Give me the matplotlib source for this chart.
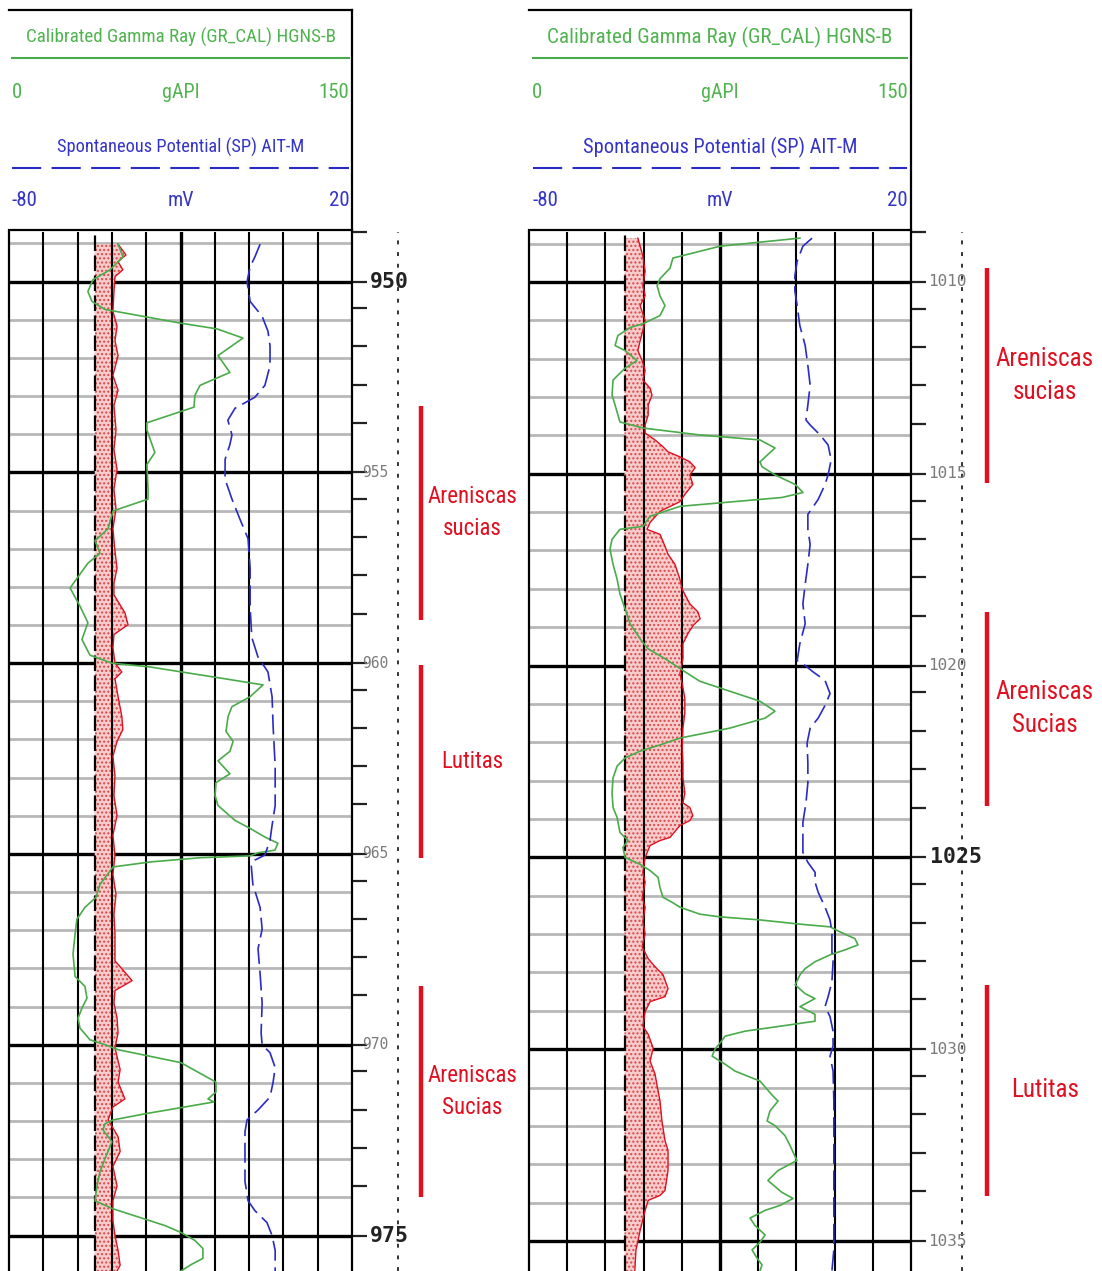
import matplotlib
matplotlib.use('Agg')
import matplotlib.pyplot as plt
import matplotlib.transforms as mtransforms
import numpy as np

# escalas de las curvas
gr_min, gr_max = 0, 150
sp_min, sp_max = -80, 20
cal_min, cal_max = 6, 16
bit_size = 8.5

# ---------------- tramo izquierdo (949 - 976 m) ----------------
top_a, base_a = 949.0, 975.93

gr_depth_a = [949.02, 949.35, 949.69, 949.95, 950.26, 950.52, 950.73, 951.09, 951.24, 951.48,
              951.94, 952.38, 952.72, 952.98, 953.29, 953.70, 953.89, 954.48, 954.79, 955.44,
              955.70, 956.01, 956.48, 956.79, 957.12, 957.38, 958.03, 958.50, 958.94, 959.38,
              959.79, 960.00, 960.10, 960.41, 960.57, 960.88, 961.14, 961.40, 961.79, 962.05,
              962.31, 962.56, 962.90, 963.13, 963.47, 963.73, 964.12, 964.33, 964.56, 964.72,
              964.90, 964.97, 965.05, 965.10, 965.21, 965.34, 965.80, 966.14, 966.40, 966.71,
              967.10, 967.62, 968.21, 968.47, 968.78, 969.04, 969.30, 969.56, 969.87, 970.00,
              970.13, 970.47, 970.98, 971.24, 971.42, 971.50, 971.81, 971.97, 972.07, 972.23,
              972.54, 972.93, 973.32, 973.70, 974.09, 974.30, 974.74, 974.92, 975.13, 975.34,
              975.60, 975.75, 975.93]
gr_a = [47.7, 49.9, 44.2, 36.7, 34.5, 36.3, 42.0, 75.2, 91.0, 102.3,
        91.4, 96.6, 83.5, 81.3, 80.9, 60.3, 60.3, 63.8, 60.3, 60.8,
        60.8, 45.5, 43.3, 37.6, 39.8, 34.5, 26.7, 31.0, 34.5, 31.9,
        35.4, 45.0, 61.7, 94.5, 111.1, 105.4, 97.5, 95.8, 94.9, 98.0,
        96.6, 91.4, 96.6, 90.5, 90.1, 91.4, 98.8, 105.4, 112.0, 117.6,
        116.3, 108.9, 105.4, 83.5, 61.7, 45.5, 39.8, 38.0, 33.2, 29.7,
        28.9, 28.0, 28.9, 33.2, 34.1, 31.9, 30.2, 31.0, 35.4, 42.0,
        47.7, 75.2, 90.5, 90.5, 87.0, 89.6, 59.5, 45.5, 42.0, 41.1,
        45.0, 42.4, 39.8, 38.5, 37.6, 45.5, 68.2, 75.2, 81.3, 84.8,
        84.8, 80.0, 75.2]

sp_depth_a = [949.02, 949.35, 949.61, 950.00, 950.52, 950.91, 951.30, 951.68, 952.20, 952.72,
              953.03, 953.32, 953.63, 954.02, 954.27, 954.66, 955.18, 955.70, 956.22, 956.74,
              957.51, 958.55, 959.33, 959.84, 960.23, 960.88, 961.66, 962.69, 963.73, 964.25,
              964.64, 965.03, 965.16, 965.28, 965.80, 966.40, 966.97, 967.49, 968.13, 968.91,
              969.69, 970.00, 970.21, 970.60, 970.98, 971.37, 971.71, 971.97, 972.28, 973.06,
              973.58, 974.09, 974.35, 974.66, 975.00, 975.39, 975.93]
sp_a = [-6.8, -8.3, -9.7, -10.6, -9.7, -6.2, -4.5, -3.9, -3.9, -5.4,
        -8.3, -14.1, -16.2, -15.0, -15.6, -17.0, -17.0, -15.0, -12.7, -10.3,
        -9.7, -9.7, -9.2, -7.4, -4.5, -3.3, -3.0, -2.4, -2.4, -3.3,
        -3.9, -5.4, -8.3, -9.4, -8.9, -6.8, -6.2, -7.4, -6.8, -6.2,
        -6.5, -6.2, -3.9, -2.4, -3.0, -3.9, -7.4, -10.6, -11.2, -11.2,
        -11.2, -10.3, -8.3, -4.8, -3.3, -2.4, -2.4]

cal_depth_a = [949.02, 949.30, 949.48, 949.69, 949.87, 950.26, 950.78, 951.17, 951.55, 951.94,
               952.46, 952.85, 953.24, 953.89, 954.40, 954.92, 955.44, 955.96, 956.48, 957.07,
               957.51, 957.90, 958.21, 958.68, 958.99, 959.25, 959.59, 960.00, 960.23, 960.41,
               960.88, 961.40, 961.74, 962.05, 962.44, 962.95, 963.47, 963.99, 964.51, 965.03,
               965.54, 966.06, 966.58, 967.10, 967.80, 968.32, 968.58, 968.91, 969.30, 969.69,
               970.08, 970.65, 970.98, 971.42, 971.63, 971.97, 972.41, 972.80, 973.19, 973.70,
               974.09, 974.61, 975.00, 975.39, 975.78, 975.93]
cal_a = [9.18, 9.41, 9.18, 9.32, 9.09, 9.06, 9.03, 9.15, 9.09, 9.18,
         9.03, 9.18, 9.06, 9.12, 9.06, 9.15, 9.06, 9.12, 9.03, 9.09,
         9.15, 9.06, 9.06, 9.38, 9.47, 9.06, 9.03, 9.09, 9.29, 9.09,
         9.18, 9.29, 9.32, 9.15, 9.03, 9.09, 9.06, 9.15, 9.03, 9.09,
         9.03, 9.12, 9.06, 9.09, 9.09, 9.59, 9.09, 9.06, 9.15, 9.18,
         9.09, 9.24, 9.18, 9.38, 9.03, 8.89, 9.18, 9.24, 9.03, 9.15,
         9.03, 9.03, 9.09, 9.18, 9.24, 9.15]

zone_top_a = [953.26, 960.05, 968.47]
zone_base_a = [958.86, 965.10, 973.99]
zone_name_a = ['Areniscas\nsucias', 'Lutitas', 'Areniscas\nSucias']
big_labels_a = [950, 975]

# ---------------- tramo derecho (1009 - 1036 m) ----------------
top_b, base_b = 1008.86, 1035.78

gr_depth_b = [1008.86, 1009.07, 1009.38, 1009.64, 1009.92, 1010.10, 1010.36, 1010.62, 1010.88, 1011.09,
              1011.19, 1011.40, 1011.66, 1011.79, 1012.05, 1012.25, 1012.56, 1012.95, 1013.21, 1013.65,
              1013.81, 1013.99, 1014.12, 1014.33, 1014.69, 1014.82, 1015.03, 1015.28, 1015.49, 1015.62,
              1015.85, 1016.11, 1016.37, 1016.45, 1016.71, 1016.97, 1017.36, 1017.75, 1018.13, 1018.52,
              1018.91, 1019.30, 1019.56, 1019.82, 1020.13, 1020.41, 1020.67, 1020.93, 1021.19, 1021.37,
              1021.63, 1021.89, 1022.07, 1022.23, 1022.41, 1022.62, 1022.93, 1023.32, 1023.70, 1023.96,
              1024.35, 1024.56, 1024.74, 1025.00, 1025.18, 1025.34, 1025.52, 1025.78, 1026.04, 1026.17,
              1026.30, 1026.48, 1026.55, 1026.63, 1026.74, 1026.81, 1026.94, 1027.12, 1027.28, 1027.41,
              1027.54, 1027.72, 1027.90, 1028.06, 1028.32, 1028.55, 1028.68, 1028.89, 1029.09, 1029.27,
              1029.40, 1029.53, 1029.66, 1029.84, 1030.00, 1030.18, 1030.39, 1030.57, 1030.83, 1031.22,
              1031.35, 1031.61, 1031.87, 1031.99, 1032.25, 1032.51, 1032.90, 1033.16, 1033.42, 1033.73,
              1033.89, 1034.07, 1034.20, 1034.40, 1034.59, 1034.84, 1035.03, 1035.23, 1035.44, 1035.62,
              1035.78]
gr_b = [106.4, 75.0, 56.5, 55.4, 51.4, 50.3, 51.4, 53.4, 51.4, 44.8,
        39.7, 34.9, 33.8, 37.7, 42.4, 37.7, 33.0, 32.6, 33.8, 35.7,
        44.8, 67.1, 90.7, 96.6, 90.7, 91.5, 96.6, 104.5, 107.6, 99.3,
        59.3, 47.5, 44.8, 35.7, 32.6, 31.8, 33.0, 34.6, 35.7, 37.7,
        39.7, 43.6, 46.7, 53.4, 60.5, 67.1, 78.9, 90.7, 96.6, 92.7,
        78.9, 59.3, 51.4, 43.6, 37.7, 34.6, 33.0, 32.6, 33.0, 34.6,
        35.7, 38.9, 36.9, 37.7, 43.6, 47.5, 50.7, 51.4, 52.6, 56.2,
        59.3, 67.1, 75.0, 90.7, 106.4, 118.2, 122.1, 128.0, 129.2, 124.1,
        118.2, 112.3, 108.4, 106.4, 104.5, 108.4, 112.3, 106.4, 112.3, 112.3,
        98.6, 84.8, 77.0, 75.0, 73.0, 71.9, 77.0, 80.9, 90.7, 95.8,
        97.8, 94.6, 93.5, 96.6, 100.5, 102.5, 105.2, 97.8, 93.8, 99.3,
        103.7, 98.6, 92.7, 86.8, 88.7, 92.7, 90.7, 87.6, 89.5, 91.5,
        90.7]

sp_depth_b = [1008.86, 1009.07, 1009.46, 1009.84, 1010.23, 1010.62, 1011.14, 1011.66, 1012.18, 1012.69,
              1013.21, 1013.60, 1013.73, 1013.99, 1014.25, 1014.64, 1015.03, 1015.28, 1015.67, 1016.06,
              1016.45, 1016.84, 1017.36, 1017.88, 1018.39, 1018.91, 1019.43, 1019.87, 1020.00, 1020.16,
              1020.39, 1020.73, 1021.04, 1021.37, 1021.63, 1022.02, 1022.54, 1023.06, 1023.58, 1024.09,
              1024.87, 1025.13, 1025.39, 1025.65, 1025.91, 1026.30, 1026.63, 1026.94, 1027.46, 1027.72,
              1028.24, 1028.63, 1028.89, 1029.15, 1029.53, 1029.92, 1030.18, 1030.57, 1031.35, 1032.64,
              1033.94, 1035.23, 1035.78]
sp_b = [-5.9, -8.3, -9.8, -10.4, -10.4, -9.8, -9.1, -7.7, -7.0, -6.4,
        -7.0, -7.5, -6.4, -3.8, -1.7, -0.9, -1.7, -2.5, -4.3, -7.0,
        -7.0, -6.4, -7.0, -7.7, -8.3, -7.7, -9.1, -9.8, -7.7, -5.7,
        -2.5, -1.2, -2.5, -4.3, -6.4, -7.2, -7.0, -7.0, -7.5, -8.3,
        -8.3, -7.0, -5.1, -5.1, -4.3, -2.5, -1.2, -0.7, -0.7, -0.4,
        -0.7, -1.7, -2.5, -1.2, -0.4, -0.4, -1.2, -0.4, -0.2, -0.2,
        -0.2, -0.2, -0.7]

cal_depth_b = [1008.86, 1009.07, 1009.33, 1009.72, 1010.10, 1010.36, 1010.62, 1011.01, 1011.27, 1011.53,
               1011.79, 1012.05, 1012.31, 1012.56, 1012.77, 1012.95, 1013.21, 1013.47, 1013.73, 1013.94,
               1014.12, 1014.30, 1014.43, 1014.56, 1014.69, 1014.84, 1015.03, 1015.28, 1015.54, 1015.73,
               1015.98, 1016.27, 1016.45, 1016.58, 1016.89, 1017.10, 1017.36, 1017.75, 1018.01, 1018.26,
               1018.39, 1018.60, 1018.78, 1018.96, 1019.17, 1019.43, 1019.82, 1020.21, 1020.47, 1020.85,
               1021.24, 1021.63, 1022.15, 1022.54, 1022.93, 1023.32, 1023.58, 1023.70, 1023.91, 1024.04,
               1024.17, 1024.48, 1024.56, 1024.69, 1025.00, 1025.39, 1025.65, 1026.04, 1026.30, 1026.68,
               1026.99, 1027.33, 1027.64, 1027.85, 1028.06, 1028.42, 1028.63, 1028.76, 1029.02, 1029.40,
               1029.61, 1029.97, 1030.31, 1030.65, 1031.09, 1031.35, 1031.87, 1032.38, 1032.64, 1033.16,
               1033.68, 1033.81, 1033.94, 1034.20, 1034.72, 1035.23, 1035.78]
cal_b = [8.85, 8.91, 8.98, 9.04, 8.98, 9.04, 8.91, 9.04, 8.98, 8.91,
         8.85, 8.96, 9.04, 8.98, 9.17, 9.22, 9.12, 9.12, 9.04, 9.04,
         9.30, 9.51, 9.64, 9.95, 10.21, 10.35, 10.21, 10.29, 10.08, 9.95,
         9.43, 9.17, 9.09, 9.43, 9.56, 9.64, 9.82, 9.95, 10.01, 10.14,
         10.21, 10.42, 10.48, 10.29, 10.16, 10.03, 10.03, 9.95, 10.01, 10.08,
         10.08, 10.03, 10.01, 10.03, 10.03, 10.08, 10.03, 10.21, 10.29, 10.21,
         9.95, 9.69, 9.43, 9.17, 9.04, 8.98, 9.04, 8.96, 9.04, 8.98,
         9.04, 8.96, 9.12, 9.30, 9.51, 9.64, 9.56, 9.17, 9.04, 8.98,
         9.12, 9.25, 9.17, 9.30, 9.38, 9.43, 9.48, 9.56, 9.64, 9.64,
         9.56, 9.43, 9.12, 9.04, 8.91, 8.80, 8.77]

zone_top_b = [1009.64, 1018.60, 1028.32]
zone_base_b = [1015.23, 1023.65, 1033.83]
zone_name_b = ['Areniscas\nsucias', 'Areniscas\nSucias', 'Lutitas']
big_labels_b = [1025]

# colores
GREEN = '#4aab4a'
GREEN_TXT = '#4fb44f'
BLUE = '#2a2ac4'
BLUE_TXT = '#3434c8'
RED = '#e01020'
NARROW = ['Roboto Condensed', 'Liberation Sans']

W, H = 1102, 1271
fig = plt.figure(figsize=(W / 100, H / 100), dpi=100)


def px_axes(x0, y0, x1, y1):
    return fig.add_axes([x0 / W, 1 - y1 / H, (x1 - x0) / W, (y1 - y0) / H])


def draw_header(x0, x1):
    hd = px_axes(x0, 10, x1, 230)
    hd.set_xlim(0, 1)
    hd.set_ylim(0, 1)
    hd.set_xticks([])
    hd.set_yticks([])
    hd.spines['left'].set_visible(False)
    for s in ['top', 'right', 'bottom']:
        hd.spines[s].set_linewidth(1.6)
    k = (x1 - x0) / 343  # la cabecera derecha es mas ancha
    kw = dict(va='center', family=NARROW)
    hd.text(0.5, 0.877, 'Calibrated Gamma Ray (GR_CAL) HGNS-B', color=GREEN_TXT, ha='center',
            fontsize=13.7 * k, **kw)
    hd.axhline(0.782, 0.01, 0.99, color=GREEN, lw=1.5)
    hd.text(0.008, 0.627, f'{gr_min}', color=GREEN_TXT, ha='left', fontsize=15, **kw)
    hd.text(0.5, 0.627, 'gAPI', color=GREEN_TXT, ha='center', fontsize=14.5, **kw)
    hd.text(0.992, 0.627, f'{gr_max}', color=GREEN_TXT, ha='right', fontsize=15, **kw)
    hd.text(0.5, 0.377, 'Spontaneous Potential (SP) AIT-M', color=BLUE_TXT, ha='center',
            fontsize=13.2 * k, **kw)
    hd.axhline(0.282, 0.01, 0.99, color=BLUE, lw=1.5, ls=(0, (14, 5)))
    hd.text(0.008, 0.136, f'{sp_min}', color=BLUE_TXT, ha='left', fontsize=15, **kw)
    hd.text(0.5, 0.136, 'mV', color=BLUE_TXT, ha='center', fontsize=14.5, **kw)
    hd.text(0.992, 0.136, f'{sp_max}', color=BLUE_TXT, ha='right', fontsize=15, **kw)


def draw_track(x0, x1, top, base, gr_d, gr, sp_d, sp, cal_d, cal,
               z_top, z_base, z_name, big_labels, small_x, big_x, small_fs, zone_fs):
    ax = px_axes(x0, 232, x1, H)
    ax.set_xlim(cal_min, cal_max)
    ax.set_ylim(base, top)
    ax.set_xticks([])
    for s in ['top', 'bottom']:
        ax.spines[s].set_visible(False)
    for s in ['left', 'right']:
        ax.spines[s].set_linewidth(1.6)

    # rejilla de profundidad
    depths = np.arange(int(np.ceil(top)), int(np.floor(base)) + 1)
    for d in depths:
        major = d % 5 == 0
        ax.axhline(d, color='black' if major else '#b8b8b8',
                   lw=2.4 if major else 2.0, zorder=0.5)

    # caliper / diametro de broca
    ax.fill_betweenx(cal_d, bit_size, cal, facecolor='#f8cccc', edgecolor='#d84a4a',
                     hatch='....', lw=0, zorder=1)
    for v in range(cal_min + 1, cal_max):
        ax.axvline(v, color='black', lw=2.4 if v == 11 else 1.5, zorder=2)
    ax.axvline(bit_size, color='black', lw=1.6, ls=(0, (7, 2)), zorder=3)
    ax.plot(cal, cal_d, color=RED, lw=1.0, zorder=3)

    # GR y SP
    ag = ax.twiny()
    ag.set_xlim(gr_min, gr_max)
    ag.axis('off')
    ag.plot(gr, gr_d, color=GREEN, lw=1.2)
    asp = ax.twiny()
    asp.set_xlim(sp_min, sp_max)
    asp.axis('off')
    asp.plot(sp, sp_d, color=BLUE, lw=1.2, ls=(0, (12, 4)))

    # marcas a la derecha
    ax.yaxis.set_ticks_position('right')
    ticks = [d if d % 5 == 0 else d - 0.3 for d in depths]
    ax.set_yticks(ticks)
    ax.set_yticklabels([])
    ax.tick_params(axis='y', direction='out', length=10.5, width=1.6, color='#222222')

    trans = mtransforms.blended_transform_factory(ax.transAxes, ax.transData)
    for d in depths[depths % 5 == 0]:
        if d in big_labels:
            ax.text(big_x, d, str(d), transform=trans, ha='left', va='center',
                    fontsize=15.5, fontweight='bold', family='DejaVu Sans Mono', color='#222222')
        else:
            ax.text(small_x, d, str(d), transform=trans, ha='left', va='center',
                    fontsize=small_fs, family='DejaVu Sans Mono', color='#7a7a7a')

    ax.plot([1.133, 1.133], [0, 1], transform=ax.transAxes, clip_on=False,
            color='#333333', lw=1.4, ls=(0, (2, 4)))

    # intervalos litologicos
    ax.vlines([1.2] * len(z_top), z_top, z_base, transform=trans, colors=RED,
              lw=3.2, clip_on=False)
    for zt, zb, name in zip(z_top, z_base, z_name):
        ax.text(1.35, (zt + zb) / 2, name, transform=trans, ha='center', va='center',
                fontsize=zone_fs, family=NARROW, color=RED, linespacing=1.5)


draw_header(9, 352)
draw_track(9, 352, top_a, base_a, gr_depth_a, gr_a, sp_depth_a, sp_a, cal_depth_a, cal_a,
           zone_top_a, zone_base_a, zone_name_a, big_labels_a, 1.03, 1.052, 10.5, 16.5)
draw_header(529, 911)
draw_track(529, 911, top_b, base_b, gr_depth_b, gr_b, sp_depth_b, sp_b, cal_depth_b, cal_b,
           zone_top_b, zone_base_b, zone_name_b, big_labels_b, 1.045, 1.05, 11.5, 18)

fig.savefig('out.png', dpi=100)
